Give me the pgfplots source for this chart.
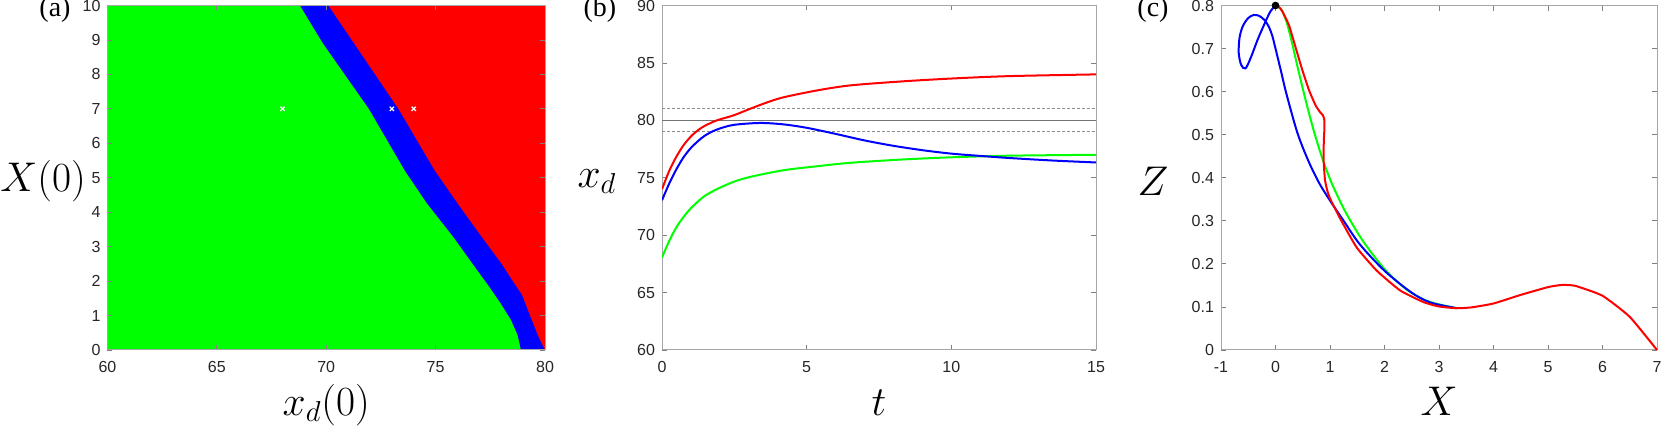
\documentclass[border=0pt]{standalone}
\usepackage{fontspec}
\setsansfont{Liberation Sans}
\newfontfamily\timesfont{Liberation Serif}
\usepackage{pgfplots}
\pgfplotsset{compat=1.18}
\definecolor{mgreen}{RGB}{0,255,0}
\definecolor{mblue}{RGB}{0,0,255}
\definecolor{mred}{RGB}{255,0,0}

\pgfplotsset{
  panel/.style={
    scale only axis, height=172.25pt, anchor=south west,
    axis line style={draw=black!35, line width=0.5pt},
    tick style={draw=black!50, line width=0.4pt},
    major tick length=2.5pt, tick align=inside,
    ticklabel style={font=\sffamily\fontsize{8}{8}\selectfont, text=black!85},
    /pgf/number format/assume math mode=true,
    xticklabel style={yshift=-2.25pt},
    label style={font=\fontsize{20.74}{20.74}\selectfont},
    xlabel style={at={(axis description cs:0.5,-0.189)}, anchor=base},
    ylabel style={rotate=-90, anchor=center},
    title style={font=\timesfont\fontsize{14}{14}\selectfont, anchor=north, inner sep=0pt},
  },
  curve/.style={line width=1pt, smooth, tension=0.5},
}

\begin{document}
\begin{tikzpicture}
\path[use as bounding box] (0,0) rectangle (830.5pt,213.5pt);

% (a) basins
\begin{axis}[panel, at={(53.75pt,38.5pt)}, width=218.75pt,
  xmin=60, xmax=80, ymin=0, ymax=10,
  xtick={60,65,...,80}, ytick={0,1,...,10},
  axis on top,
  xlabel={$x_d(0)$}, ylabel={$X(0)$},
  ylabel style={at={(axis description cs:-0.147,0.49)}},
  title={(a)}, title style={at={(axis description cs:-0.12,0.99)}}]
\addplot[draw=none, fill=mgreen] coordinates {(60,0) (80,0) (80,10) (60,10)} -- cycle;
\addplot[draw=none, fill=mblue] coordinates {(68.8,10) (69.85,8.9) (71.95,7) (73.6,5.2) (74.6,4.26) (75.8,3.29) (76.9,2.32) (77.45,1.84) (78.0,1.33) (78.45,0.87) (78.75,0.43) (78.9,0) (80,0) (80,10)} -- cycle;
\addplot[draw=none, fill=mred] coordinates {(70.1,10) (73.3,7) (74.95,5.22) (76.0,4.26) (77.1,3.29) (78.0,2.52) (78.5,2.03) (78.95,1.6) (79.4,0.87) (79.7,0.39) (80,0) (80,10)} -- cycle;
\addplot[only marks, mark=x, mark size=1.5pt, white, line width=0.6pt] coordinates {(68,7) (73,7) (74,7)};
\end{axis}

% (b) time series
\begin{axis}[panel, at={(331pt,38.5pt)}, width=217pt,
  xmin=0, xmax=15, ymin=60, ymax=90,
  xtick={0,5,10,15}, ytick={60,65,...,90},
  xlabel={$t$}, ylabel={$x_d$},
  ylabel style={at={(axis description cs:-0.15,0.49)}},
  title={(b)}, title style={at={(axis description cs:-0.143,0.99)}}]
\addplot[black!55, line width=0.5pt] coordinates {(0,80) (15,80)};
\addplot[black!45, line width=0.4pt, dash pattern=on 1.5pt off 1pt] coordinates {(0,81) (15,81)};
\addplot[black!45, line width=0.4pt, dash pattern=on 1.5pt off 1pt] coordinates {(0,79) (15,79)};
\addplot[curve, mgreen] coordinates {(0,68.06) (0.25,69.5) (0.5,70.7) (0.75,71.6) (1,72.35) (1.43,73.33) (1.89,74.0) (2.47,74.64) (3.04,75.07) (4.19,75.65) (5.35,76.0) (6.5,76.3) (8.23,76.58) (10,76.78) (12,76.92) (15,77.0)};
\addplot[curve, mblue] coordinates {(0,73.04) (0.25,74.5) (0.5,75.75) (0.75,76.8) (1,77.6) (1.25,78.2) (1.5,78.7) (1.9,79.2) (2.47,79.6) (3.39,79.77) (4.19,79.65) (5.0,79.35) (6.0,78.82) (7.0,78.25) (8.0,77.78) (9,77.4) (10,77.1) (11,76.9) (12,76.72) (13.5,76.5) (15,76.33)};
\addplot[curve, mred] coordinates {(0,74.0) (0.25,75.6) (0.5,76.85) (0.75,77.85) (1,78.6) (1.25,79.15) (1.5,79.55) (1.9,80.0) (2.47,80.43) (3.04,81.0) (3.62,81.55) (4.19,82.0) (5.35,82.6) (6.5,83.04) (8.23,83.38) (10,83.64) (12,83.85) (15,84.0)};
\end{axis}

% (c) phase plane
\begin{axis}[panel, at={(610.5pt,38.5pt)}, width=218pt, clip=false,
  xmin=-1, xmax=7, ymin=0, ymax=0.8,
  xtick={-1,0,...,7}, ytick={0,0.1,...,0.8},
  yticklabel style={/pgf/number format/fixed},
  xlabel={$X$}, ylabel={$Z$},
  ylabel style={at={(axis description cs:-0.156,0.49)}},
  title={(c)}, title style={at={(axis description cs:-0.156,0.99)}}]
\addplot[curve, mgreen] coordinates {(0,0.8) (0.1,0.792) (0.2,0.763) (0.3,0.715) (0.4,0.66) (0.5,0.607) (0.6,0.557) (0.7,0.51) (0.8,0.468) (0.9,0.43) (1.0,0.397) (1.1,0.368) (1.3,0.317) (1.6,0.254) (2.0,0.188) (2.4,0.141) (2.8,0.113) (3.33,0.097)};
\addplot[curve, mblue] coordinates {(0,0.8) (-0.09,0.787) (-0.2,0.758) (-0.33,0.72) (-0.45,0.68) (-0.55,0.654) (-0.63,0.662) (-0.675,0.69) (-0.66,0.725) (-0.6,0.752) (-0.5,0.771) (-0.4,0.778) (-0.3,0.776) (-0.2,0.766) (-0.12,0.75) (-0.06,0.73) (0,0.70) (0.1,0.648) (0.2,0.595) (0.4,0.505) (0.6,0.44) (0.8,0.388) (1.0,0.347) (1.25,0.30) (1.55,0.245) (2.0,0.184) (2.5,0.133) (2.85,0.110) (3.33,0.097)};
\addplot[curve, tension=0.3, mred] coordinates {(0,0.8) (0.06,0.797) (0.123,0.787) (0.245,0.755) (0.368,0.703) (0.49,0.651) (0.613,0.604) (0.736,0.568) (0.82,0.552) (0.87,0.545) (0.895,0.535) (0.898,0.515) (0.888,0.49) (0.882,0.46) (0.886,0.432) (0.908,0.395) (0.95,0.37) (1.0,0.352) (1.11,0.324) (1.2,0.302) (1.49,0.238) (1.86,0.184) (2.29,0.138) (2.72,0.111) (3.0,0.101) (3.33,0.097) (3.6,0.099) (4.0,0.108) (4.5,0.128) (5.0,0.146) (5.25,0.151) (5.5,0.149) (6.0,0.126) (6.5,0.077) (7,0)};
\addplot[only marks, mark=*, mark size=1.7pt, black] coordinates {(0,0.8)};
\end{axis}
\end{tikzpicture}
\end{document}
